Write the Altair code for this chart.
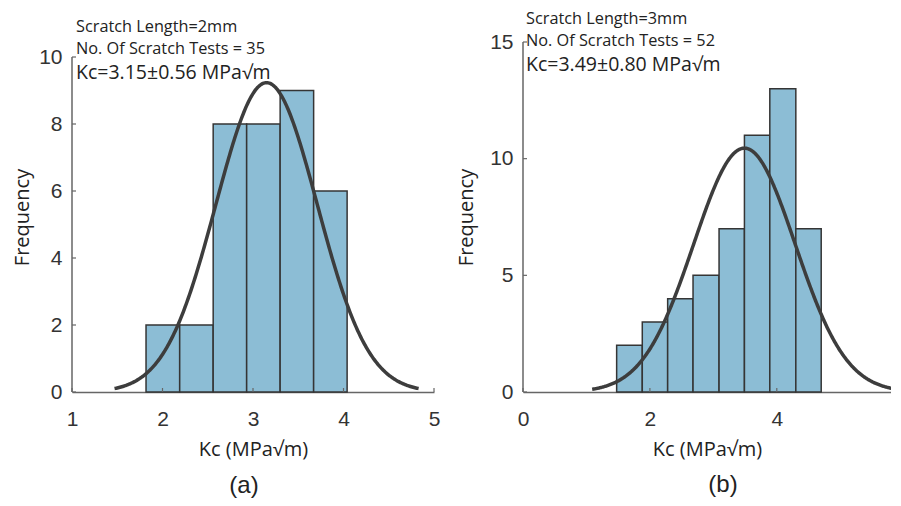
import altair as alt
import pandas as pd

# ---- panel (a): scratch length 2 mm ----
a_edges = [1.818, 2.19, 2.56, 2.93, 3.30, 3.67, 4.04]
a_counts = [2, 2, 8, 8, 9, 6]
a_mean, a_sd, a_n = 3.15, 0.56, 35
a_lines = ["Scratch Length=2mm", "No. Of Scratch Tests = 35", "Kc=3.15±0.56 MPa√m"]
a_xticks = [1, 2, 3, 4, 5]
a_yticks = [0, 2, 4, 6, 8, 10]

# ---- panel (b): scratch length 3 mm ----
b_edges = [1.476, 1.88, 2.28, 2.68, 3.09, 3.49, 3.89, 4.30, 4.70]
b_counts = [2, 3, 4, 5, 7, 11, 13, 7]
b_mean, b_sd, b_n = 3.49, 0.80, 52
b_lines = ["Scratch Length=3mm", "No. Of Scratch Tests = 52", "Kc=3.49±0.80 MPa√m"]
b_xticks = [0, 2, 4]
b_yticks = [0, 5, 10, 15]

FILL = "#8cbdd5"
EDGE = "#353535"
CURVE = "#3d3d3d"
AXIS = "#666666"
TXT = "#222222"
SANS = "Open Sans"
NUM = "Liberation Sans"


def panel(edges, counts, mean, sd, n, xdom, xticks, ydom, yticks, width, height,
          lines, line_y, line_x, label, label_pos, ytitle_pad):
    bars = pd.DataFrame({"x0": edges[:-1], "x1": edges[1:], "count": counts})
    bw = (edges[-1] - edges[0]) / len(counts)
    xs = alt.Scale(domain=xdom, nice=False, zero=False)
    ys = alt.Scale(domain=ydom, nice=False, zero=False)

    xaxis = alt.Axis(values=xticks, format="d", title="Kc (MPa√m)", grid=False,
                     labelFlush=False, labelPadding=16, titlePadding=10)
    yaxis = alt.Axis(values=yticks, format="d", title="Frequency", grid=False,
                     labelFlush=False, domain=False, labelPadding=10, titlePadding=ytitle_pad)

    bar = alt.Chart(bars).mark_rect(fill=FILL, stroke=EDGE, strokeWidth=1.5).encode(
        x=alt.X("x0:Q", scale=xs, axis=xaxis),
        x2="x1:Q",
        y=alt.Y("count:Q", scale=ys, axis=yaxis),
        y2=alt.datum(0),
    )

    curve = alt.Chart(alt.sequence(mean - 3 * sd, mean + 3 * sd + 0.001, 0.01, as_="k")).transform_calculate(
        f=f"{n * bw}*exp(-0.5*pow((datum.k-{mean})/{sd},2))/({sd}*sqrt(2*PI))"
    ).mark_line(color=CURVE, strokeWidth=3.5, clip=True).encode(
        x=alt.X("k:Q", scale=xs), y=alt.Y("f:Q", scale=ys)
    )

    yline = alt.Chart(pd.DataFrame({"lo": [yticks[0]], "hi": [yticks[-1]]})).mark_rule(
        color=AXIS, strokeWidth=1.5).encode(
        x=alt.value(0), y=alt.Y("lo:Q", scale=ys), y2="hi:Q")

    yt = alt.Chart(pd.DataFrame({"v": yticks})).mark_rule(color=AXIS, strokeWidth=1.2).encode(
        x=alt.value(0), x2=alt.value(4), y=alt.Y("v:Q", scale=ys))
    xt = alt.Chart(pd.DataFrame({"v": xticks})).mark_rule(color=AXIS, strokeWidth=1.2).encode(
        y=alt.value(height), y2=alt.value(height - 4), x=alt.X("v:Q", scale=xs))

    ann_df = pd.DataFrame({"t": lines, "yy": line_y,
                           "fs": [16.3, 16.3, 19.5]})
    ann = alt.Chart(ann_df).mark_text(align="left", baseline="middle", font=SANS, color=TXT).encode(
        text="t:N", x=alt.value(line_x), y=alt.Y("yy:Q", scale=None),
        size=alt.Size("fs:Q", scale=None, legend=None))

    lab = alt.Chart(pd.DataFrame({"t": [label]})).mark_text(
        font=NUM, fontSize=24, color=TXT, baseline="middle", align="center").encode(
        text="t:N", x=alt.value(label_pos[0]), y=alt.value(label_pos[1]))

    return alt.layer(bar, curve, yline, yt, xt, ann, lab).properties(width=width, height=height)


left = panel(a_edges, a_counts, a_mean, a_sd, a_n, [1, 5], a_xticks, [0, 10 * 350 / 335], a_yticks,
             362, 350, a_lines, [-15, 7, 31], 4, "(a)", (172, 444), 6)
right = panel(b_edges, b_counts, b_mean, b_sd, b_n, [0, 5.8], b_xticks, [0, 15], b_yticks,
              368, 350, b_lines, [-23, -1, 23], 3, "(b)", (200, 443), 13)

chart = alt.hconcat(left, right, spacing=89, bounds="flush").properties(
    padding={"left": 4, "top": 3, "right": 0, "bottom": 0}
).configure_view(stroke=None).configure_axis(
    domainColor=AXIS, domainWidth=1.5, tickSize=0,
    labelFont=NUM, labelFontSize=21, labelColor="#333333",
    titleFont=SANS, titleFontSize=20, titleFontWeight="normal", titleColor=TXT,
)

chart.save("out.html", embed_options={"renderer": "svg", "actions": False})
